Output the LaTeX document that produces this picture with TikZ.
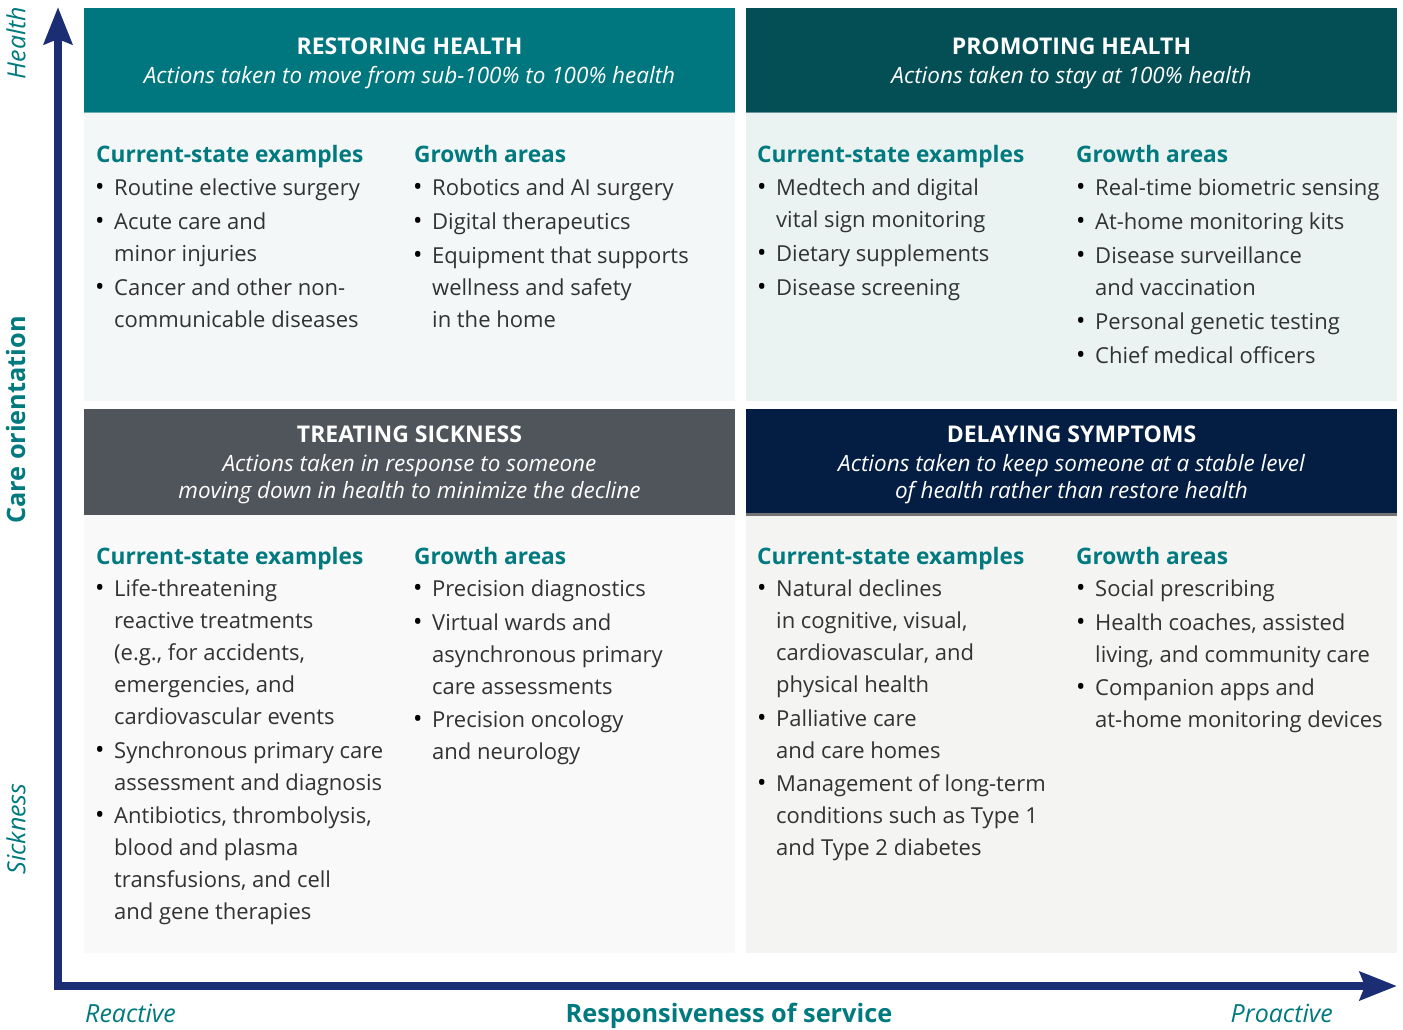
\documentclass[tikz,border=0pt]{standalone}
\usepackage{fontspec}
\setmainfont{Open Sans}
\usetikzlibrary{arrows.meta}

\definecolor{hdrTeal}{RGB}{0,118,126}
\definecolor{hdrDeep}{RGB}{4,78,86}
\definecolor{hdrGrey}{RGB}{80,84,91}
\definecolor{hdrNavy}{RGB}{3,30,66}
\definecolor{axisBlue}{RGB}{27,46,116}
\definecolor{tealText}{RGB}{0,122,127}
\definecolor{bodyText}{RGB}{50,50,50}
\definecolor{bgTL}{RGB}{243,247,247}
\definecolor{bgTR}{RGB}{234,243,241}
\definecolor{bgBL}{RGB}{249,249,249}
\definecolor{bgBR}{RGB}{244,244,243}

\tikzset{
  title/.style={font=\fontsize{23}{27}\selectfont\bfseries, text=white, anchor=base, inner sep=0pt},
  subtitle/.style={font=\fontsize{22.5}{27}\selectfont\itshape, text=white, anchor=base, inner sep=0pt},
  colhead/.style={font=\fontsize{22.7}{27}\selectfont\bfseries, text=tealText, anchor=base west, inner sep=0pt},
  itemline/.style={font=\fontsize{22}{27}\selectfont, text=bodyText, anchor=base west, inner sep=0pt},
  bulletmark/.style={font=\fontsize{25}{27}\selectfont, text=black, anchor=base west, inner sep=0pt},
  axislabel/.style={font=\fontsize{25}{27}\selectfont\itshape, text=tealText, inner sep=0pt},
  axistitle/.style={font=\fontsize{25.3}{27}\selectfont\bfseries, text=tealText, inner sep=0pt},
  axisline/.style={draw=axisBlue, line width=8pt, line join=miter,
    {Stealth[length=37pt, width=28pt, inset=5pt]}-{Stealth[length=37pt, width=28pt, inset=5pt]}},
}

% one bulleted entry: name, x of text, baseline of first line, list of lines
\newcommand\bentry[4]{%
  \node[bulletmark] (#1-b) at ({#2-19}, #3) {•};
  \foreach \ln [count=\k from 0] in {#4} {
    \node[itemline] (#1-\k) at (#2, {#3+32*\k}) {\ln};
  }%
}

\begin{document}
\begin{tikzpicture}[x=1pt, y=-1pt]
\useasboundingbox (0,0) rectangle (1403,1030);
\fill[white] (0,0) rectangle (1403,1030);

% ---------- quadrant backgrounds ----------
\fill[bgTL] (84,113) rectangle (735,400.5);
\fill[bgTR] (746,113) rectangle (1397,400.5);
\fill[bgBL] (84,515) rectangle (735,953);
\fill[bgBR] (746,515) rectangle (1397,953);

% ---------- header bars ----------
\fill[hdrTeal] (84,8) rectangle (735,113);
\fill[hdrDeep] (746,8) rectangle (1397,113);
\fill[hdrGrey] (84,409) rectangle (735,515);
\fill[hdrNavy] (746,409) rectangle (1397,513);
\fill[hdrTeal!60!white] (84,112) rectangle (735,113.5);
\fill[hdrDeep!60!white] (746,112) rectangle (1397,113.5);
\fill[black!55] (746,513) rectangle (1397,515.5);

\node[title] (tlT) at (409.5,55) {RESTORING HEALTH};
\node[subtitle] (tlS) at (409.5,84) {Actions taken to move from sub-100\% to 100\% health};
\node[title] (trT) at (1071.5,55) {PROMOTING HEALTH};
\node[subtitle] (trS) at (1071.5,84) {Actions taken to stay at 100\% health};
\node[title] (blT) at (409.5,442) {TREATING SICKNESS};
\node[subtitle] (blS1) at (409.5,471) {Actions taken in response to someone};
\node[subtitle] (blS2) at (409.5,498) {moving down in health to minimize the decline};
\node[title] (brT) at (1071.5,442) {DELAYING SYMPTOMS};
\node[subtitle] (brS1) at (1071.5,471) {Actions taken to keep someone at a stable level};
\node[subtitle] (brS2) at (1071.5,498) {of health rather than restore health};

% ---------- restoring health ----------
\node[colhead] (tlC) at (96,163) {Current-state examples};
\bentry{tlc1}{114}{195}{Routine elective surgery}
\bentry{tlc2}{114}{229}{Acute care and, minor injuries}
\bentry{tlc3}{114}{295}{Cancer and other non-, communicable diseases}
\node[colhead] (tlG) at (414,163) {Growth areas};
\bentry{tlg1}{432}{195}{Robotics and AI surgery}
\bentry{tlg2}{432}{229}{Digital therapeutics}
\bentry{tlg3}{432}{263}{Equipment that supports, wellness and safety, in the home}

% ---------- promoting health ----------
\node[colhead] (trC) at (757,163) {Current-state examples};
\bentry{trc1}{776}{195}{Medtech and digital, vital sign monitoring}
\bentry{trc2}{776}{261}{Dietary supplements}
\bentry{trc3}{776}{295}{Disease screening}
\node[colhead] (trG) at (1076,163) {Growth areas};
\bentry{trg1}{1095}{195}{Real-time biometric sensing}
\bentry{trg2}{1095}{229}{At-home monitoring kits}
\bentry{trg3}{1095}{263}{Disease surveillance, and vaccination}
\bentry{trg4}{1095}{329}{Personal genetic testing}
\bentry{trg5}{1095}{363}{Chief medical officers}

% ---------- treating sickness ----------
\node[colhead] (blC) at (96,564) {Current-state examples};
\bentry{blc1}{114}{596}{Life-threatening, reactive treatments, {(e.g., for accidents,}, {emergencies, and}, cardiovascular events}
\bentry{blc2}{114}{758}{Synchronous primary care, assessment and diagnosis}
\bentry{blc3}{114}{823}{{Antibiotics, thrombolysis,}, blood and plasma, {transfusions, and cell}, and gene therapies}
\node[colhead] (blG) at (414,564) {Growth areas};
\bentry{blg1}{432}{596}{Precision diagnostics}
\bentry{blg2}{432}{630}{Virtual wards and, asynchronous primary, care assessments}
\bentry{blg3}{432}{727}{Precision oncology, and neurology}

% ---------- delaying symptoms ----------
\node[colhead] (brC) at (757,564) {Current-state examples};
\bentry{brc1}{776}{596}{Natural declines, {in cognitive, visual,}, {cardiovascular, and}, physical health}
\bentry{brc2}{776}{726}{Palliative care, and care homes}
\bentry{brc3}{776}{791}{Management of long-term, conditions such as Type 1, and Type 2 diabetes}
\node[colhead] (brG) at (1076,564) {Growth areas};
\bentry{brg1}{1095}{596}{Social prescribing}
\bentry{brg2}{1095}{630}{{Health coaches, assisted}, {living, and community care}}
\bentry{brg3}{1095}{695}{Companion apps and, at-home monitoring devices}

% ---------- axes ----------
\coordinate (ytip) at (58,7);
\coordinate (xtip) at (1397,986);
\path[axisline] (ytip) |- (xtip);

\node[axislabel, rotate=90] (health) at (16,43) {Health};
\node[axistitle, rotate=90] (care) at (16,420) {Care orientation};
\node[axislabel, rotate=90] (sick) at (16,829) {Sickness};
\node[axislabel, anchor=base west] (react) at (85,1022) {Reactive};
\node[axistitle, anchor=base] (resp) at (729,1022) {Responsiveness of service};
\node[axislabel, anchor=base east] (proact) at (1333,1022) {Proactive};
\end{tikzpicture}
\end{document}
